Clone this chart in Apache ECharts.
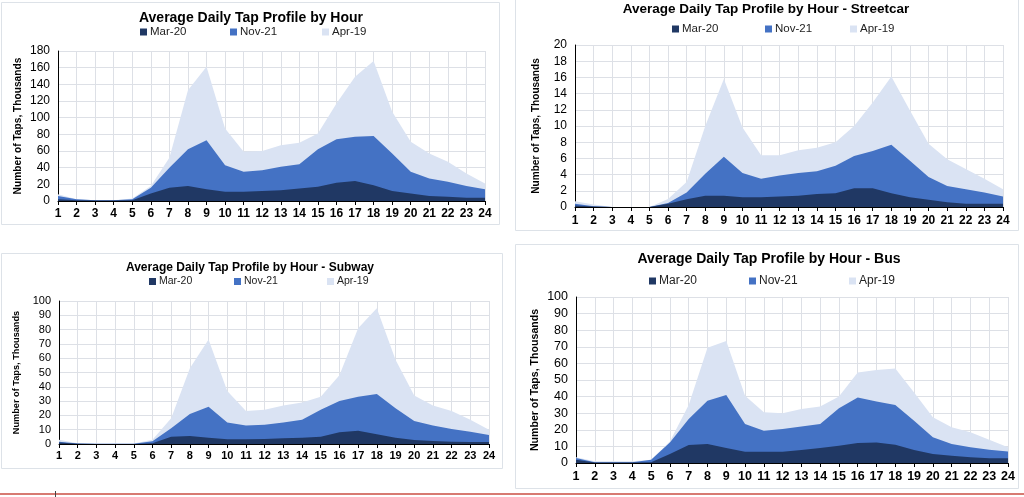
<!DOCTYPE html>
<html>
<head>
<meta charset="utf-8">
<script src="https://cdn.jsdelivr.net/npm/echarts@6/dist/echarts.min.js"></script>
<style>
html,body{margin:0;padding:0;background:#fff;}
#c{width:1024px;height:497px;}
</style>
</head>
<body>
<div id="c"></div>
<script>
const hours = ['1','2','3','4','5','6','7','8','9','10','11','12','13','14','15','16','17','18','19','20','21','22','23','24'];
const seriesNames = ['Mar-20','Nov-21','Apr-19'];

// All modes
const allMar20 = [2,1,0.5,0.5,1,9,16,18,14,11,11,12,13,15,17,22,24,19,12,9,6,5,4,4];
const allNov21 = [6,2,1,1,2,16,40,62,73,43,35,37,41,44,62,74,77,78,57,35,27,23,18,14];
const allApr19 = [8,2,1,1,3,18,52,133,161,87,59,60,67,70,81,117,149,168,107,71,57,47,33,21];

// Streetcar
const scMar20 = [0.2,0.05,0,0,0,0.4,0.95,1.4,1.4,1.2,1.2,1.3,1.4,1.6,1.7,2.3,2.3,1.7,1.2,0.9,0.6,0.4,0.4,0.4];
const scNov21 = [0.4,0.1,0,0,0,0.5,1.8,4.1,6.2,4.2,3.5,3.9,4.2,4.4,5.1,6.3,6.9,7.7,5.7,3.7,2.6,2.2,1.8,1.3];
const scApr19 = [0.7,0.3,0,0,0,1.0,3.1,10,15.8,9.8,6.4,6.4,7.0,7.3,8.0,10.0,12.9,16.1,11.9,7.8,5.9,4.7,3.5,2.2];

// Subway
const swMar20 = [1,0.1,0,0,0,0.5,5.1,5.6,4.4,3.3,3.3,3.5,4.0,4.4,5.1,8.2,9.3,6.8,4.4,2.8,2.1,1.6,1.4,1.4];
const swNov21 = [1.5,0.3,0.1,0.1,0.1,2,11,21,26,15,13,13.5,15,17,24,30,33,35,25,16,13,10.5,8.5,6.3];
const swApr19 = [3,0.5,0.3,0.3,0.3,3,18,53,73,37,23,24,27,29,33,48,81,95,59,34,27,23,17,10];

// Bus
const busMar20 = [2,0.3,0.3,0.3,0.5,5.4,10.8,11.4,9,6.8,6.8,6.8,7.8,9,10.4,12,12.4,11,7.8,5.4,4.4,3.4,2.8,2.8];
const busNov21 = [3,0.5,0.5,0.5,2,12.4,26.5,37.5,41,23.5,19.5,20.5,22,23.5,33,39.5,37,35,25.5,15.5,11.5,9.5,8,7];
const busApr19 = [3.4,1,1,1,2,13,35,69.5,73.5,40.5,30.5,30,32.5,34,40,54.5,56,57,42.5,27.5,21.5,18.5,14,9.5];

const yMax = [180,20,100,100];
const yInterval = [20,2,10,10];
const titles = [
  'Average Daily Tap Profile by Hour',
  'Average Daily Tap Profile by Hour - Streetcar',
  'Average Daily Tap Profile by Hour - Subway',
  'Average Daily Tap Profile by Hour - Bus'
];
const yName = 'Number of Taps, Thousands';

const panelData = [
  [allMar20, allNov21, allApr19],
  [scMar20, scNov21, scApr19],
  [swMar20, swNov21, swApr19],
  [busMar20, busNov21, busApr19]
];

const FONT = "'Liberation Sans', Arial, sans-serif";
const colors = {'Mar-20':'#203864','Nov-21':'#4472C4','Apr-19':'#DAE3F3'};

// layout per panel
const layout = [
  {grid:{left:58,right:539,top:51,bottom:296}, title:{x:251,y:18,size:14}, legendY:33, legendX:[140,230,322], legendSize:11.5, labelSize:12, nameSize:10.2, nameGap:35, xLabelMargin:7},
  {grid:{left:575,right:21,top:45,bottom:290}, title:{x:766,y:9,size:13.5}, legendY:30, legendX:[672,765,850], legendSize:11.5, labelSize:12, nameSize:10.1, nameGap:34, xLabelMargin:8},
  {grid:{left:59,right:535,top:301,bottom:53}, title:{x:250,y:268,size:12}, legendY:283, legendX:[149,234,327], legendSize:10.5, labelSize:11, nameSize:9.2, nameGap:38, xLabelMargin:6},
  {grid:{left:576,right:16,top:297,bottom:34}, title:{x:769,y:259,size:14}, legendY:282, legendX:[649,749,849], legendSize:12, labelSize:12.5, nameSize:10.6, nameGap:35, xLabelMargin:7}
];

const grids = [], xAxes = [], yAxes = [], series = [], legends = [], graphics = [];

// panel borders
const borders = [
  {x:1,y:2,w:498,h:222},
  {x:515,y:-5,w:503,h:235},
  {x:1,y:253,w:501,h:215},
  {x:515,y:244,w:503,h:244}
];
borders.forEach(b => graphics.push({type:'rect', shape:{x:b.x+0.5,y:b.y+0.5,width:b.w,height:b.h}, style:{fill:'#fff', stroke:'#dde2e8', lineWidth:1}, z:-10}));
// bottom red line
graphics.push({type:'rect', shape:{x:0,y:493,width:1024,height:2}, style:{fill:'#d77a72'}, z:-5});
graphics.push({type:'rect', shape:{x:55,y:491,width:1,height:6}, style:{fill:'#444'}, z:-5});

layout.forEach((L, i) => {
  grids.push(Object.assign({containLabel:false}, L.grid));
  xAxes.push({
    type:'category', gridIndex:i, data:hours, boundaryGap:false,
    axisLine:{show:true, lineStyle:{color:'#000', width:1}},
    axisTick:{show:true, length:4, interval:0, lineStyle:{color:'#000'}},
    axisLabel:{interval:0, margin:L.xLabelMargin, color:'#000', fontWeight:'bold', fontSize:L.labelSize, fontFamily:FONT},
    splitLine:{show:true, interval:0, lineStyle:{color:'#dde0e6', width:1}}
  });
  yAxes.push({
    type:'value', gridIndex:i, min:0, max:yMax[i], interval:yInterval[i],
    name:yName, nameLocation:'middle', nameGap:L.nameGap,
    nameTextStyle:{fontFamily:FONT, fontWeight:'bold', fontSize:L.nameSize, color:'#000'},
    axisLine:{show:true, lineStyle:{color:'#000', width:1}},
    axisTick:{show:false},
    axisLabel:{margin:8, color:'#000', fontSize:L.labelSize, fontFamily:FONT},
    splitLine:{show:true, lineStyle:{color:'#dde0e6', width:1}}
  });
  // draw back to front: Apr-19, Nov-21, Mar-20
  [2,1,0].forEach(k => {
    const nm = seriesNames[k];
    series.push({
      name:nm, type:'line', xAxisIndex:i, yAxisIndex:i, data:panelData[i][k],
      symbol:'none', showSymbol:false, silent:true,
      lineStyle:{width:0, color:colors[nm]}, itemStyle:{color:colors[nm]},
      areaStyle:{color:colors[nm], opacity:1}, z:2+(2-k)
    });
  });
  seriesNames.forEach((nm, k) => {
    legends.push({
      data:[nm], left:L.legendX[k], top:L.legendY-7, itemWidth:7, itemHeight:7, itemGap:4,
      icon:'rect', padding:0,
      textStyle:{fontFamily:FONT, fontSize:L.legendSize, color:'#222', padding:[0,0,0,-2]}
    });
  });
  graphics.push({type:'text', x:L.title.x, y:L.title.y, style:{text:titles[i], font:'bold '+L.title.size+'px '+FONT, fill:'#000', textAlign:'center', textVerticalAlign:'middle'}});
});

const chart = echarts.init(document.getElementById('c'), null, {renderer:'canvas'});
chart.setOption({
  animation:false,
  backgroundColor:'#fff',
  grid:grids, xAxis:xAxes, yAxis:yAxes, series:series, legend:legends, graphic:graphics
});
</script>
</body>
</html>
